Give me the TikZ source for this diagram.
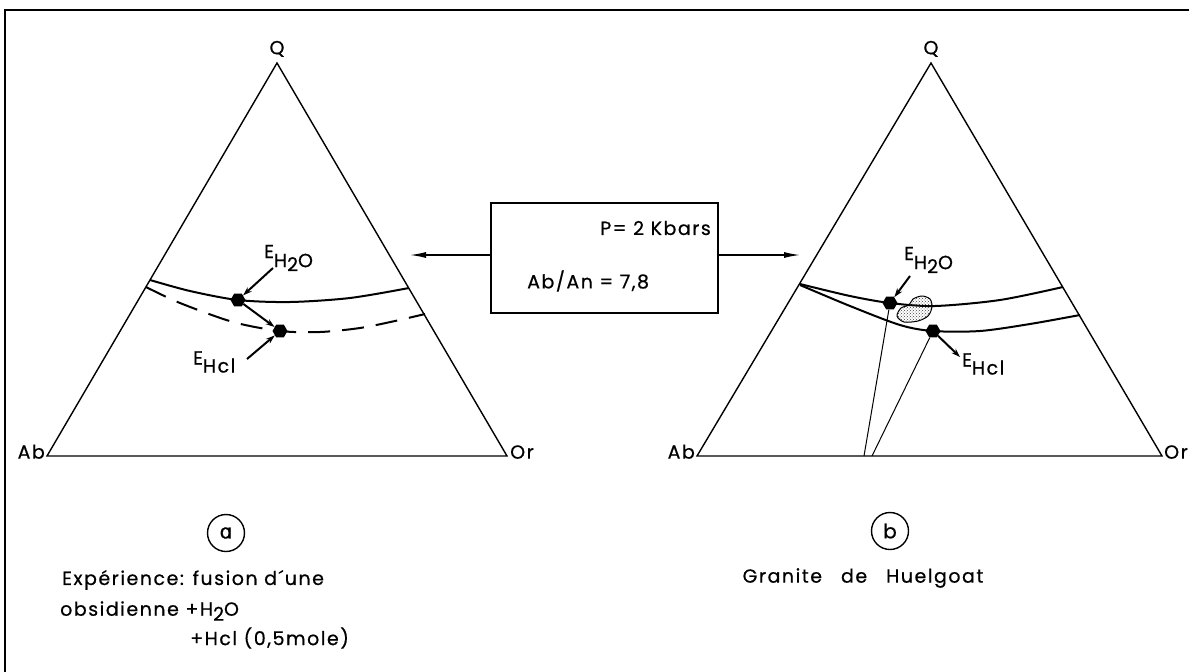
\documentclass[tikz,border=0pt]{standalone}
\usepackage{fontspec}
\newfontfamily\lt[LetterSpace=8,FakeBold=0.6]{Poppins}
\newfontfamily\dv[FakeBold=0.6]{DejaVu Sans}
\usetikzlibrary{shapes.geometric,arrows.meta,patterns}
\begin{document}
\begin{tikzpicture}[x=1pt,y=-1pt,
  lbl/.style={font=\lt\fontsize{19}{21}\selectfont, inner sep=0pt},
  tri/.style={line width=1.4pt},
  eq/.style={line width=2pt},
  thin/.style={line width=1pt},
  dot/.style={regular polygon, regular polygon sides=6, fill=black, inner sep=0pt, minimum size=15pt},
  ptr/.style={line width=2pt, -{Stealth[length=9pt,width=6pt]}},
  barrow/.style={line width=1.3pt, -{Latex[length=16pt,width=6pt]}},
  circ/.style={circle, draw, line width=1.4pt, minimum size=37pt, inner sep=0pt, font=\lt\fontsize{20}{21}\selectfont}
]
\useasboundingbox (0,0) rectangle (1189,672);
\fill[white] (0,0) rectangle (1189,672);
% frame
\draw[line width=2.5pt] (5,672) -- (5,10) -- (1189,10);

% ---------- left triangle ----------
\coordinate (aQ) at (277,63);
\coordinate (aAb) at (47,456);
\coordinate (aOr) at (507,456);
\draw[tri] (aAb) -- (aQ) -- (aOr) -- cycle;
\node[lbl, anchor=south] (laQ) at (277,57) {Q};
\node[lbl, anchor=south east] (laAb) at (45,459) {Ab};
\node[lbl, anchor=south west] (laOr) at (510,459) {Or};

% curves
\draw[eq] plot[smooth] coordinates {(150,280) (190,291) (238,300) (290,302) (350,298) (409,288)};
\draw[eq, dash pattern=on 22pt off 12pt] plot[smooth] coordinates {(146,287) (180,303) (233,322) (280,331) (320,332) (360,328) (395,321) (425,314)};
\node[dot] (aH) at (238,300) {};
\node[dot] (aC) at (280,331) {};
\draw[ptr] (aH) -- (aC);
\coordinate (aHp) at (273,268);
\coordinate (aCp) at (247,359);
\draw[ptr] (aHp) -- (aH);
\draw[ptr] (aCp) -- (aC);
\node[lbl, anchor=west] (laH) at (264,258) {E\raisebox{-9pt}{H\raisebox{-4pt}{2}O}};
\node[lbl, anchor=west] (laC) at (193,362) {E\raisebox{-8pt}{Hcl}};

\node[circ] (ca) at (226,533) {\dv ɑ};
\node[lbl, anchor=west] (ta1) at (62,580) {Expérience: fusion d´une};
\node[lbl, anchor=west] (ta2) at (60,611) {obsidienne +H\raisebox{-5pt}{2}O};
\node[lbl, anchor=west] (ta3) at (190,638) {+Hcl (0,5mole)};

% ---------- box ----------
\node[draw, line width=1.5pt, minimum width=227pt, minimum height=110pt, inner sep=0pt] (box) at (604.5,258) {};
\node[lbl, anchor=east] (tP) at (711,228) {P= 2 Kbars};
\node[lbl, anchor=west] (tA) at (527,281) {Ab/An = 7,8};
\coordinate (arL) at (410,255);
\coordinate (arR) at (800,255);
\draw[barrow] (box.west |- arL) -- (arL);
\draw[barrow] (box.east |- arR) -- (arR);

% ---------- right triangle ----------
\coordinate (bQ) at (931,63);
\coordinate (bAb) at (697,456);
\coordinate (bOr) at (1162,456);
\draw[tri] (bAb) -- (bQ) -- (bOr) -- cycle;
\node[lbl, anchor=south] (lbQ) at (931,57) {Q};
\node[lbl, anchor=south east] (lbAb) at (695,459) {Ab};
\node[lbl, anchor=south west] (lbOr) at (1164,459) {Or};

\draw[eq] plot[smooth] coordinates {(800,284) (850,296) (890,303) (935,306) (1000,300) (1063,287)};
\draw[eq] plot[smooth] coordinates {(800,285) (850,306) (900,325) (933,331) (980,331) (1030,324) (1080,315)};
\draw[thin, pattern=crosshatch dots, pattern color=black!75] plot[smooth cycle] coordinates {(913,299) (922,296) (930,299) (932,307) (928,316) (918,321) (904,322) (897,316) (901,308) (909,305)};
\node[dot] (bH) at (890,303) {};
\node[dot] (bC) at (933,331) {};
\coordinate (bH0) at (864,456);
\coordinate (bC0) at (872,456);
\draw[thin] (bH) -- (bH0);
\draw[thin] (bC) -- (bC0);
\coordinate (bHp) at (910,276);
\coordinate (bCp) at (960,357);
\draw[ptr] (bHp) -- (bH);
\draw[ptr] (bC) -- (bCp);
\node[lbl, anchor=west] (lbH) at (904,260) {E\raisebox{-9pt}{H\raisebox{-4pt}{2}O}};
\node[lbl, anchor=west] (lbC) at (962,364) {E\raisebox{-8pt}{Hcl}};

\node[circ] (cb) at (890,531) {b};
\node[lbl, anchor=center] (tb) at (863,578) {Granite\quad de\quad Huelgoat};
\end{tikzpicture}
\end{document}
